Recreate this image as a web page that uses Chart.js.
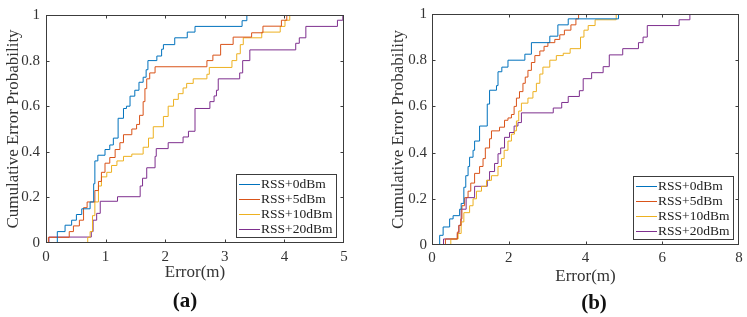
<!DOCTYPE html>
<html><head><meta charset="utf-8">
<script src="https://cdn.jsdelivr.net/npm/chart.js@4.4.1/dist/chart.umd.min.js"></script>
<style>
html,body{margin:0;padding:0;background:#fff;width:747px;height:317px;overflow:hidden}
.wrap{position:absolute;top:0;height:317px}
#wa{left:0;width:370px}
#wb{left:377px;width:370px}
.cap{position:absolute;font-family:"Liberation Serif",serif;font-weight:bold;font-size:21px;color:#111;transform:translateX(-50%);line-height:24px}
</style></head><body>
<div id="wa" class="wrap"><canvas id="ca"></canvas></div>
<div id="wb" class="wrap"><canvas id="cb"></canvas></div>
<div class="cap" style="left:185px;top:288px">(a)</div>
<div class="cap" style="left:594px;top:290px">(b)</div>
<script>
const seriesLabels = ['RSS+0dBm', 'RSS+5dBm', 'RSS+10dBm', 'RSS+20dBm'];
const seriesColors = ['#0072BD', '#D95319', '#EDB120', '#7E2F8E'];
const xLabel = 'Error(m)';
const yLabel = 'Cumulative Error Probability';
const xTicksA = [0, 1, 2, 3, 4, 5];
const xTicksB = [0, 2, 4, 6, 8];
const yTicks = [0, 0.2, 0.4, 0.6, 0.8, 1];

// Panel (a): error values (m) where each empirical CDF steps, and the CDF after the step
const errA0  = [0.19, 0.32, 0.43, 0.51, 0.60, 0.74, 0.80, 0.82, 0.87, 0.99, 1.07, 1.13, 1.21, 1.30, 1.35, 1.41, 1.49, 1.56, 1.63, 1.68, 1.71, 1.86, 1.94, 1.97, 2.16, 2.37, 2.50, 3.29, 3.37];
const cdfA0  = [0.05, 0.078, 0.10, 0.125, 0.15, 0.18, 0.26, 0.36, 0.385, 0.41, 0.43, 0.46, 0.547, 0.59, 0.60, 0.644, 0.67, 0.705, 0.727, 0.76, 0.80, 0.82, 0.85, 0.87, 0.90, 0.925, 0.95, 0.975, 1.0];
const errA5  = [0.04, 0.39, 0.46, 0.56, 0.63, 0.69, 0.82, 0.88, 0.93, 0.99, 1.07, 1.16, 1.24, 1.30, 1.44, 1.52, 1.57, 1.63, 1.66, 1.69, 1.74, 1.83, 2.70, 2.80, 2.93, 3.14, 3.45, 3.64, 3.95, 4.04];
const cdfA5  = [0.025, 0.05, 0.075, 0.10, 0.155, 0.18, 0.23, 0.27, 0.31, 0.35, 0.375, 0.41, 0.44, 0.475, 0.50, 0.52, 0.56, 0.62, 0.677, 0.72, 0.746, 0.773, 0.80, 0.824, 0.871, 0.903, 0.922, 0.951, 0.977, 1.0];
const errA10 = [0.70, 0.74, 0.78, 0.82, 0.88, 0.93, 1.02, 1.10, 1.19, 1.30, 1.44, 1.63, 1.72, 1.80, 1.97, 2.05, 2.14, 2.22, 2.30, 2.36, 2.47, 2.70, 2.74, 3.12, 3.20, 3.26, 3.31, 3.62, 3.93, 4.01, 4.09];
const cdfA10 = [0.025, 0.05, 0.12, 0.18, 0.25, 0.29, 0.31, 0.34, 0.36, 0.38, 0.39, 0.42, 0.46, 0.51, 0.555, 0.60, 0.63, 0.655, 0.68, 0.70, 0.72, 0.74, 0.77, 0.80, 0.83, 0.87, 0.90, 0.925, 0.95, 0.977, 1.0];
const errA20 = [0.05, 0.76, 0.79, 0.85, 0.91, 1.20, 1.58, 1.62, 1.69, 1.83, 1.85, 2.05, 2.30, 2.39, 2.50, 2.75, 2.82, 2.86, 2.89, 3.25, 3.30, 3.42, 4.19, 4.25, 4.36, 4.89, 4.98];
const cdfA20 = [0.026, 0.05, 0.10, 0.13, 0.183, 0.203, 0.25, 0.284, 0.33, 0.38, 0.414, 0.44, 0.465, 0.49, 0.59, 0.62, 0.645, 0.67, 0.72, 0.746, 0.80, 0.847, 0.876, 0.90, 0.95, 0.977, 1.0];

// Panel (b)
const errB0  = [0.20, 0.29, 0.46, 0.55, 0.72, 0.76, 0.83, 0.88, 0.94, 0.98, 1.07, 1.11, 1.24, 1.44, 1.50, 1.68, 1.72, 1.82, 1.98, 2.42, 2.59, 3.07, 3.28, 3.55, 4.86];
const cdfB0  = [0.042, 0.078, 0.113, 0.127, 0.155, 0.18, 0.25, 0.30, 0.34, 0.38, 0.41, 0.45, 0.515, 0.61, 0.67, 0.69, 0.75, 0.77, 0.80, 0.826, 0.876, 0.904, 0.953, 0.979, 1.0];
const errB5  = [0.35, 0.66, 0.70, 0.75, 0.78, 0.85, 0.94, 1.01, 1.11, 1.24, 1.33, 1.39, 1.50, 1.55, 1.76, 1.89, 1.98, 2.07, 2.14, 2.20, 2.28, 2.37, 2.43, 2.50, 2.59, 2.68, 2.81, 2.92, 3.02, 3.20, 3.33, 3.45, 3.62, 3.75, 3.82];
const cdfB5  = [0.026, 0.056, 0.085, 0.113, 0.17, 0.205, 0.233, 0.268, 0.31, 0.34, 0.374, 0.42, 0.46, 0.494, 0.51, 0.54, 0.55, 0.565, 0.60, 0.636, 0.664, 0.70, 0.727, 0.756, 0.79, 0.82, 0.84, 0.86, 0.876, 0.89, 0.91, 0.93, 0.953, 0.979, 1.0];
const errB10 = [0.49, 0.68, 0.76, 0.83, 0.98, 1.07, 1.16, 1.29, 1.42, 1.55, 1.72, 1.81, 1.88, 1.98, 2.07, 2.15, 2.20, 2.26, 2.33, 2.50, 2.63, 2.72, 2.81, 2.89, 3.07, 3.24, 3.42, 3.60, 3.87, 3.96, 4.07, 4.25, 4.80];
const cdfB10 = [0.026, 0.05, 0.10, 0.14, 0.17, 0.20, 0.233, 0.254, 0.28, 0.30, 0.34, 0.374, 0.41, 0.45, 0.48, 0.494, 0.537, 0.58, 0.614, 0.636, 0.664, 0.70, 0.74, 0.77, 0.80, 0.82, 0.83, 0.85, 0.90, 0.93, 0.95, 0.975, 1.0];
const errB20 = [0.30, 0.66, 0.70, 0.76, 0.89, 1.11, 1.44, 1.50, 1.63, 1.72, 1.79, 1.89, 2.02, 2.14, 2.24, 2.33, 3.16, 3.38, 3.55, 3.84, 3.94, 4.16, 4.46, 4.62, 4.97, 5.38, 5.50, 5.61, 6.44, 6.72];
const cdfB20 = [0.026, 0.05, 0.085, 0.155, 0.205, 0.254, 0.28, 0.318, 0.353, 0.395, 0.42, 0.466, 0.487, 0.515, 0.53, 0.572, 0.593, 0.617, 0.643, 0.668, 0.72, 0.746, 0.772, 0.823, 0.85, 0.876, 0.90, 0.95, 0.975, 1.0];

const FONT = '"Liberation Serif", "Times New Roman", serif';
const AXIS = '#3c3c3c';
const TEXT = '#333333';

function stepPoints(xs, ys) {
  const pts = [{x: xs[0], y: 0}];
  xs.forEach((v, i) => pts.push({x: v, y: ys[i]}));
  return pts;
}

const fmt = v => String(Number(Number(v).toFixed(2)));

const framePlugin = {
  id: 'frame',
  afterDatasetsDraw(chart) {
    const {ctx, chartArea: a, scales: {x, y}} = chart;
    const L = Math.round(a.left) + 0.5, R = Math.round(a.right) - 0.5;
    const T = Math.round(a.top) + 0.5, B = Math.round(a.bottom) - 0.5;
    ctx.save();
    ctx.strokeStyle = AXIS;
    ctx.lineWidth = 1;
    ctx.strokeRect(L, T, R - L, B - T);
    const tl = 3;
    ctx.beginPath();
    x.ticks.forEach(t => {
      if (t.value <= x.min || t.value >= x.max) return;
      const px = Math.round(x.getPixelForValue(t.value)) + 0.5;
      ctx.moveTo(px, B); ctx.lineTo(px, B - tl);
      ctx.moveTo(px, T); ctx.lineTo(px, T + tl);
    });
    y.ticks.forEach(t => {
      if (t.value <= y.min || t.value >= y.max) return;
      const py = Math.round(y.getPixelForValue(t.value)) + 0.5;
      ctx.moveTo(L, py); ctx.lineTo(L + tl, py);
      ctx.moveTo(R, py); ctx.lineTo(R - tl, py);
    });
    ctx.stroke();
    ctx.restore();
  },
  afterDraw(chart, args, opts) {
    const {ctx, chartArea: a} = chart;
    const ds = chart.data.datasets;
    ctx.save();
    ctx.font = '13.5px ' + FONT;
    const tw = Math.max(...ds.map(d => ctx.measureText(d.label).width));
    const w = Math.round(25 + tw + 4), h = 63, row = 15;
    const right = Math.round(a.right) - opts.gapR, bottom = Math.round(a.bottom) - opts.gapB;
    const left = right - w, top = bottom - h;
    ctx.fillStyle = '#fff';
    ctx.fillRect(left, top, w, h);
    ctx.strokeStyle = AXIS;
    ctx.lineWidth = 1;
    ctx.strokeRect(left + 0.5, top + 0.5, w, h);
    ctx.textBaseline = 'middle';
    ds.forEach((d, i) => {
      const cy = Math.round(top + 9.5 + i * row) + 0.5;
      ctx.strokeStyle = d.borderColor;
      ctx.beginPath();
      ctx.moveTo(left + 3, cy); ctx.lineTo(left + 24, cy);
      ctx.stroke();
      ctx.fillStyle = '#222';
      ctx.fillText(d.label, left + 25, cy);
    });
    ctx.restore();
  }
};

function makeChart(id, errs, cdfs, xTicks, cfg) {
  const datasets = seriesLabels.map((lab, i) => ({
    label: lab,
    data: stepPoints(errs[i], cdfs[i]),
    borderColor: seriesColors[i],
    backgroundColor: seriesColors[i],
    borderWidth: 1,
    pointRadius: 0,
    stepped: true,
    fill: false
  }));
  return new Chart(document.getElementById(id), {
    type: 'line',
    data: {datasets},
    plugins: [framePlugin],
    options: {
      responsive: true,
      maintainAspectRatio: false,
      animation: false,
      events: [],
      layout: {padding: {left: 0, right: cfg.padR, top: cfg.padT, bottom: cfg.padB}},
      plugins: {
        legend: {display: false},
        tooltip: {enabled: false},
        frame: {gapR: cfg.gapR, gapB: cfg.gapB}
      },
      scales: {
        x: {
          type: 'linear',
          min: xTicks[0],
          max: xTicks[xTicks.length - 1],
          afterBuildTicks: s => { s.ticks = xTicks.map(v => ({value: v})); },
          afterFit: s => { s.height = cfg.xH; },
          grid: {display: false, drawTicks: false},
          border: {display: false},
          ticks: {color: TEXT, padding: cfg.xTickPad, font: {family: FONT, size: 15}, maxRotation: 0, callback: fmt},
          title: {display: true, text: xLabel, color: TEXT, font: {family: FONT, size: 17}, padding: {top: 0, bottom: 0}}
        },
        y: {
          type: 'linear',
          min: 0,
          max: 1,
          afterBuildTicks: s => { s.ticks = yTicks.map(v => ({value: v})); },
          afterFit: s => { s.width = cfg.yW; },
          grid: {display: false, drawTicks: false},
          border: {display: false},
          ticks: {color: TEXT, padding: cfg.yTickPad, font: {family: FONT, size: 15}, callback: fmt},
          title: {display: true, text: yLabel, color: TEXT, font: {family: FONT, size: 17}, padding: {top: cfg.yTitlePad, bottom: 0}}
        }
      }
    }
  });
}

makeChart('ca', [errA0, errA5, errA10, errA20], [cdfA0, cdfA5, cdfA10, cdfA20], xTicksA,
  {padR: 26, padT: 12, padB: 34, xH: 40, yW: 46, xTickPad: 5, yTickPad: 6, yTitlePad: 3, gapR: 8, gapB: 6});
makeChart('cb', [errB0, errB5, errB10, errB20], [cdfB0, cdfB5, cdfB10, cdfB20], xTicksB,
  {padR: 8, padT: 9, padB: 30, xH: 42, yW: 55, xTickPad: 4, yTickPad: 5, yTitlePad: 11, gapR: 6, gapB: 6});
</script>
</body></html>
